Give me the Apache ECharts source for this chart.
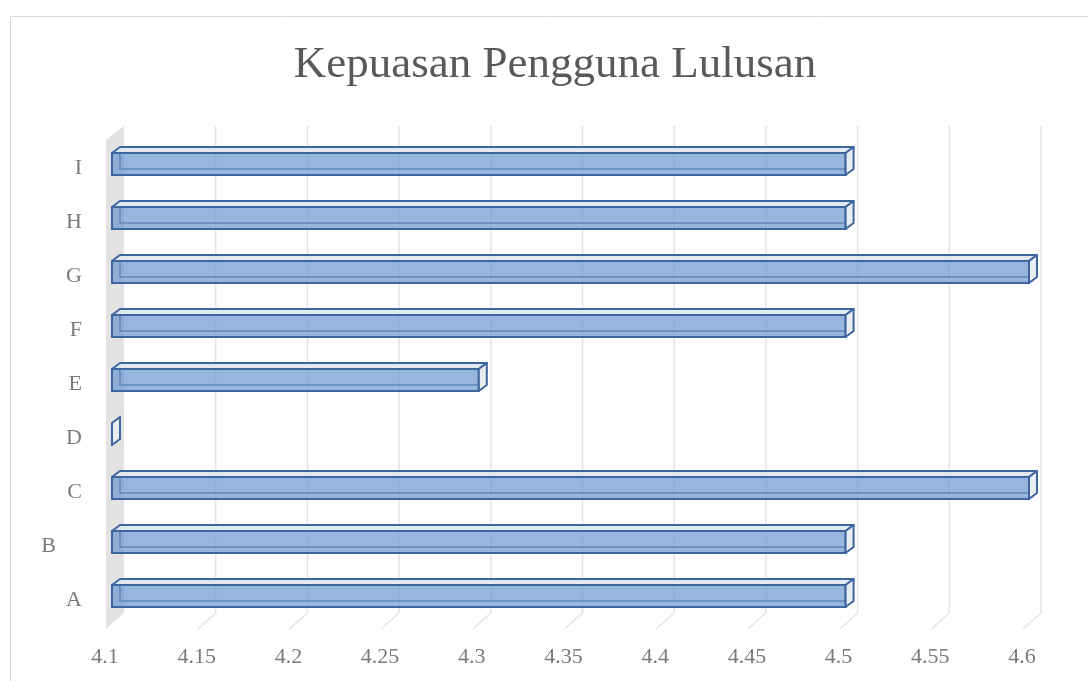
<!DOCTYPE html>
<html><head><meta charset="utf-8">
<script src="https://cdn.jsdelivr.net/npm/echarts@6/dist/echarts.min.js"></script>
<style>html,body{margin:0;padding:0;background:#fff}#c{width:1088px;height:681px}</style>
</head><body><div id="c"></div>
<script>
const titleText = 'Kepuasan Pengguna Lulusan';
const categories = ['A', 'B', 'C', 'D', 'E', 'F', 'G', 'H', 'I'];
const values = [4.5, 4.5, 4.6, 4.1, 4.3, 4.5, 4.6, 4.5, 4.5];
const tickValues = [4.1, 4.15, 4.2, 4.25, 4.3, 4.35, 4.4, 4.45, 4.5, 4.55, 4.6];
const axisMin = 4.1, axisMax = 4.6, axisInterval = 0.05;

const SERIF = '"Liberation Serif","Times New Roman",serif';
const STROKE = '#3d659e';

function renderGrid(params, api) {
  const v = api.value(0);
  const x = api.coord([v, 0])[0];
  const cs = params.coordSys;
  const top = cs.y, bot = cs.y + cs.height;
  if (params.dataIndex === 0) {
    return {
      type: 'polygon',
      shape: { points: [[x - 6, top + 2], [x + 12, top - 12], [x + 12, bot - 11], [x - 6, bot + 5]] },
      style: { fill: '#e2e2e2', stroke: null }
    };
  }
  return {
    type: 'polyline',
    shape: { points: [[x + 12, top - 12], [x + 12, bot - 11], [x - 6, bot + 5]] },
    style: { stroke: '#e4e4e4', lineWidth: 1.5, fill: null }
  };
}

function renderBar(params, api) {
  const v = api.value(0), c = api.value(1);
  const p0 = api.coord([axisMin, c]);
  const p1 = api.coord([v, c]);
  const band = api.size([0, 1])[1];
  const h = band * 0.41;
  const x0 = p0[0], x1 = p1[0];
  const yT = p0[1] - h / 2 - 1, yB = yT + h;
  const dx = 8, dy = -6;
  const children = [];
  if (x1 - x0 > 0.5) {
    children.push({
      type: 'rect', shape: { x: x0, y: yT, width: x1 - x0, height: h },
      style: { fill: 'rgba(112,153,208,0.72)', stroke: STROKE, lineWidth: 2 }
    });
    children.push({
      type: 'polyline', shape: { points: [[x0 + dx, yT + dy], [x0 + dx, yB + dy], [x1 + dx, yB + dy]] },
      style: { stroke: 'rgba(61,101,158,0.55)', lineWidth: 1.5, fill: null }
    });
    children.push({
      type: 'polygon', shape: { points: [[x0, yT], [x1, yT], [x1 + dx, yT + dy], [x0 + dx, yT + dy]] },
      style: { fill: '#e3e9f1', stroke: STROKE, lineWidth: 2, lineJoin: 'round' }
    });
  }
  children.push({
    type: 'polygon', shape: { points: [[x1, yT], [x1 + dx, yT + dy], [x1 + dx, yB + dy], [x1, yB]] },
    style: { fill: '#e9edf2', stroke: STROKE, lineWidth: 2, lineJoin: 'round' }
  });
  return { type: 'group', children: children };
}

const chart = echarts.init(document.getElementById('c'), null, { renderer: 'canvas' });
chart.setOption({
  backgroundColor: '#ffffff',
  animation: false,
  graphic: [
    { type: 'rect', z: -10, shape: { x: 10.5, y: 16.5, width: 1200, height: 800 },
      style: { fill: null, stroke: '#d9d9d9', lineWidth: 1 } },
    { type: 'text', x: 555, y: 65,
      style: { text: titleText, font: '45px ' + SERIF, fill: '#595959', align: 'center', verticalAlign: 'middle' } }
  ],
  grid: { left: 112, right: 59, top: 138, bottom: 57, containLabel: false },
  xAxis: {
    type: 'value', min: axisMin, max: axisMax, interval: axisInterval,
    axisLine: { show: false }, axisTick: { show: false }, splitLine: { show: false },
    axisLabel: {
      margin: 22, color: '#7a7a7a', fontFamily: SERIF, fontSize: 22, padding: [0, 14, 0, 0],
      formatter: v => String(+(+v).toFixed(2))
    }
  },
  yAxis: {
    type: 'category', data: categories,
    axisLine: { show: false }, axisTick: { show: false }, splitLine: { show: false },
    axisLabel: {
      margin: 30, color: '#7a7a7a', fontFamily: SERIF, fontSize: 22,
      formatter: v => v === 'B' ? '{b|B}' : '{n|' + v + '}',
      rich: {
        n: { fontFamily: SERIF, fontSize: 22, color: '#7a7a7a', padding: [6, 0, 0, 0] },
        b: { fontFamily: SERIF, fontSize: 22, color: '#7a7a7a', padding: [6, 26, 0, 0] }
      }
    }
  },
  series: [
    { type: 'custom', name: 'grid', silent: true, clip: false, z: 1,
      encode: { x: 0, y: 1 },
      data: tickValues.map(t => [t, 0]),
      renderItem: renderGrid },
    { type: 'custom', name: 'Kepuasan', clip: false, z: 2,
      encode: { x: 0, y: 1 },
      data: values.map((v, i) => [v, i]),
      renderItem: renderBar }
  ]
});
</script></body></html>
